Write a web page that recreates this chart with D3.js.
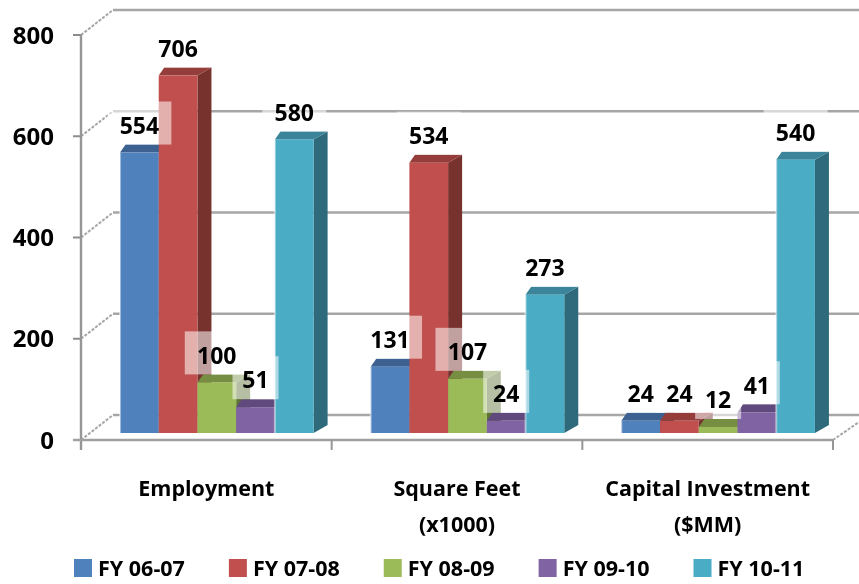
<!DOCTYPE html>
<html><head><meta charset="utf-8">
<script src="https://cdn.jsdelivr.net/npm/d3@7"></script>
<style>html,body{margin:0;padding:0;background:#fff}svg{display:block}text{font-family:"Open Sans",sans-serif;font-weight:700;fill:#000}</style>
</head><body><svg id="c" width="859" height="584"></svg>
<script>
const categories=[["Employment"],["Square Feet","(x1000)"],["Capital Investment","($MM)"]];
const seriesNames=["FY 06-07","FY 07-08","FY 08-09","FY 09-10","FY 10-11"];
const values0607=[554,131,24];
const values0708=[706,534,24];
const values0809=[100,107,12];
const values0910=[51,24,41];
const values1011=[580,273,540];
const allValues=[values0607,values0708,values0809,values0910,values1011];
const colorsFront=["#4f81bd","#c0504d","#9bbb59","#8064a2","#4bacc6"];
const colorsTop=["#3c6292","#943c3a","#768e43","#604a7b","#3a8499"];
const colorsSide=["#2f4e74","#77302e","#5e7235","#4c3b62","#2e6a7b"];
const yTicks=[0,200,400,600,800];

const svg=d3.select("#c");
const defs=svg.append("defs");
defs.append("filter").attr("id","soft").attr("x","-5%").attr("y","-5%").attr("width","110%").attr("height","110%")
  .append("feGaussianBlur").attr("stdDeviation",0.55);
const root=svg.append("g").attr("filter","url(#soft)");

const dx=32,dy=25, bdx=14, bdy=8;
const yFront=d3.scaleLinear().domain([0,800]).range([440,35]);
const yBack=d3.scaleLinear().domain([0,800]).range([415,10]);
const yBar=d3.scaleLinear().domain([0,800]).range([433,28]);
const xCat=d3.scaleBand().domain(d3.range(categories.length)).range([81,833]);
const xSer=d3.scaleBand().domain(d3.range(seriesNames.length)).range([39,232.6]);

const grid="#a6a6a6";
// walls
const wall=root.append("g");
yTicks.forEach(t=>{
  wall.append("line").attr("x1",81+dx).attr("x2",859).attr("y1",yBack(t)).attr("y2",yBack(t)).attr("stroke",grid).attr("stroke-width",2.4);
  wall.append("line").attr("x1",81).attr("x2",81+dx).attr("y1",yFront(t)).attr("y2",yBack(t)).attr("stroke",grid).attr("stroke-width",2).attr("stroke-dasharray","3 1.5");
  wall.append("line").attr("x1",73).attr("x2",81).attr("y1",yFront(t)).attr("y2",yFront(t)).attr("stroke","#8c8c8c").attr("stroke-width",2);
});
wall.append("line").attr("x1",833).attr("x2",859).attr("y1",440).attr("y2",422).attr("stroke",grid).attr("stroke-width",2).attr("stroke-dasharray","3 1.5");
wall.append("line").attr("x1",81).attr("x2",81).attr("y1",yFront(800)).attr("y2",450).attr("stroke","#969696").attr("stroke-width",2.4);
wall.append("line").attr("x1",73).attr("x2",833).attr("y1",440).attr("y2",440).attr("stroke","#a0a0a0").attr("stroke-width",2.4);
[0,1,2].forEach(i=>wall.append("line").attr("x1",xCat(i)+xCat.bandwidth()).attr("x2",xCat(i)+xCat.bandwidth()).attr("y1",440).attr("y2",450).attr("stroke","#969696").attr("stroke-width",2));

// bars
const barsG=root.append("g");
categories.forEach((c,ci)=>{
  seriesNames.forEach((s,si)=>{
    const v=allValues[si][ci], x=xCat(ci)+xSer(si), w=xSer.bandwidth(), t=yBar(v), b=yBar(0);
    const g=barsG.append("g");
    g.append("polygon").attr("fill",colorsSide[si])
      .attr("points",[[x+w,t],[x+w+bdx,t-bdy],[x+w+bdx,b-bdy],[x+w,b]].join(" "));
    g.append("polygon").attr("fill",colorsTop[si])
      .attr("points",[[x,t],[x+bdx*.4,t-bdy],[x+w+bdx,t-bdy],[x+w,t]].join(" "));
    g.append("rect").attr("x",x).attr("y",t).attr("width",w).attr("height",b-t).attr("fill",colorsFront[si]);
    if(si===0||si===4) g.append("rect").attr("x",x-1).attr("y",t).attr("width",2).attr("height",b-t).attr("fill","#fff").attr("opacity",.45);
  });
});

// data labels
const lab=root.append("g");
const boxes=lab.append("g"), texts=lab.append("g");
categories.forEach((c,ci)=>{
  seriesNames.forEach((s,si)=>{
    const v=allValues[si][ci], cx=xCat(ci)+xSer(si)+xSer.bandwidth()/2, ty=yBar(v)-27;
    const bw=String(v).length>2?64:46;
    boxes.append("rect").attr("x",cx-bw/2).attr("y",ty-24).attr("width",bw).attr("height",43).attr("fill","#fff").attr("opacity",.55);
    texts.append("text").attr("x",cx).attr("y",ty).attr("dy","0.36em").attr("text-anchor","middle").attr("font-size",23).text(v);
  });
});

// y tick labels
yTicks.forEach(t=>root.append("text").attr("x",54).attr("y",yFront(t)).attr("dy","0.36em").attr("text-anchor","end").attr("font-size",24).text(t));

// categories
categories.forEach((c,ci)=>{
  const cx=xCat(ci)+xCat.bandwidth()/2;
  c.forEach((l,li)=>root.append("text").attr("x",cx).attr("y",488+li*36).attr("dy","0.36em").attr("text-anchor","middle").attr("font-size",21.5).text(l));
});

// legend
const legendX=d3.scaleLinear().domain([0,4]).range([74,693.5]);
seriesNames.forEach((s,i)=>{
  root.append("rect").attr("x",legendX(i)).attr("y",559).attr("width",18).attr("height",18).attr("fill",colorsFront[i]);
  root.append("text").attr("x",legendX(i)+24).attr("y",568).attr("dy","0.36em").attr("font-size",21.5).text(s);
});
</script></body></html>
